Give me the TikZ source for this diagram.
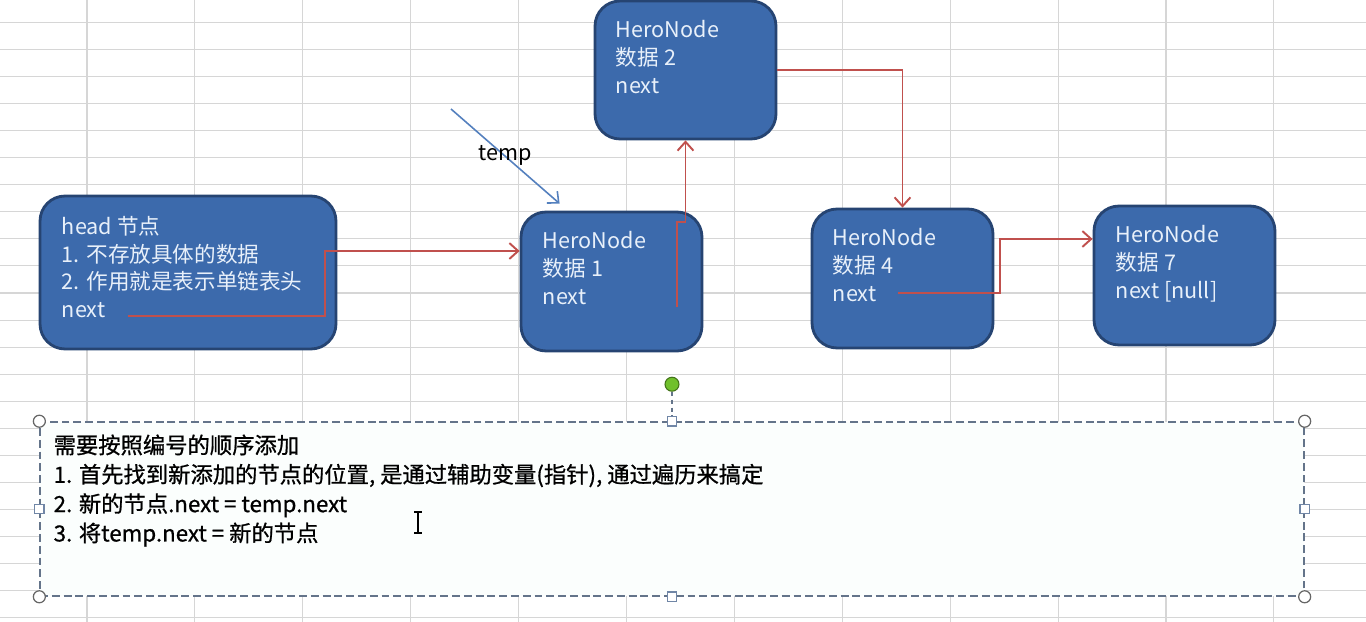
\documentclass[tikz,border=0pt]{standalone}
\usepackage{fontspec}
\setmainfont{Noto Sans CJK SC}
\newfontfamily\notefont{Noto Sans CJK SC}[FakeBold=0.8]
\usetikzlibrary{arrows.meta,positioning}
\definecolor{herofill}{RGB}{60,106,172}
\definecolor{heroline}{RGB}{38,68,114}
\definecolor{herotxt}{RGB}{232,240,250}
\definecolor{nextred}{RGB}{192,80,77}
\definecolor{tempblue}{RGB}{84,128,190}
\definecolor{gridgray}{RGB}{214,214,214}
\definecolor{framegray}{RGB}{100,116,138}
\definecolor{handleblue}{RGB}{112,134,166}
\definecolor{rotgreen}{RGB}{112,192,44}
\definecolor{notefill}{RGB}{251,254,253}
\begin{document}
\begin{tikzpicture}[x=0.02cm,y=-0.02cm,
  hero/.style={draw=heroline,line width=1.6pt,fill=herofill,rounded corners=0.5cm,
    minimum width=3.62cm,minimum height=2.78cm,inner sep=0pt},
  herotext/.style={anchor=north west,inner sep=0pt,align=left,text=herotxt,
    font=\fontsize{12.3}{15.9}\selectfont},
  nextarrow/.style={draw=nextred,line width=1.1pt,-{Straight Barb[length=5pt,width=9pt]}},
  handle/.style={circle,draw=gray!80!black,fill=white,line width=0.7pt,minimum size=0.24cm,inner sep=0pt},
  sizer/.style={rectangle,draw=handleblue,fill=white,line width=0.7pt,minimum size=0.19cm,inner sep=0pt}]
\useasboundingbox (0,0) rectangle (1366,622);
\fill[white] (0,0) rectangle (1366,622);
% sheet grid
\foreach \i in {0,...,11}
  \draw[gridgray,line width=0.6pt] (87+107.9*\i,0) -- (87+107.9*\i,622);
\foreach \j in {0,...,22}
  \draw[gridgray,line width=0.6pt] (0,22.5+27.05*\j) -- (1366,22.5+27.05*\j);

\node [hero,minimum width=5.92cm,minimum height=3.06cm] (head) at (188,272.5) {};
\node [hero] (n1) at (611.5,281.5) {};
\node [hero,minimum height=2.76cm] (n2) at (685.5,70) {};
\node [hero] (n4) at (902.5,278.5) {};
\node [hero] (n7) at (1184.5,275.5) {};

\node [herotext] (headtxt) at ([shift={(23,21)}]head.north west) {head 节点\\1. 不存放具体的数据\\2. 作用就是表示单链表头\\next};
\node [herotext] (n1txt) at ([shift={(23,20)}]n1.north west) {HeroNode\\数据 1\\next};
\node [herotext] (n2txt) at ([shift={(22,20)}]n2.north west) {HeroNode\\数据 2\\next};
\node [herotext] (n4txt) at ([shift={(22,20)}]n4.north west) {HeroNode\\数据 4\\next};
\node [herotext] (n7txt) at ([shift={(23,20)}]n7.north west) {HeroNode\\数据 7\\next [null]};

\coordinate (headnext) at (128,316);
\coordinate (n1next) at (677,307);
\coordinate (n4next) at (898,293);
\draw [nextarrow] (headnext) -- (325,316) |- ([shift={(0,-30.5)}]n1.west);
\draw [nextarrow] (n1next) -- (677,222) -| (n2.south);
\draw [nextarrow] (n2.east) -| (n4.north);
\draw [nextarrow] (n4next) -- (1000,293) |- ([shift={(0,-36.5)}]n7.west);
% \draw [nextarrow] (n1.east) -- (n4.west);

\coordinate (tempstart) at (451,109);
\draw [tempblue,line width=0.9pt,-{Straight Barb[length=5pt,width=9pt]}] (tempstart) -- ([shift={(40,-7)}]n1.north west);
\node [font=\fontsize{12.3}{15}\selectfont,inner sep=0pt] (templabel) at (505,155) {temp};

\node [draw=framegray,line width=0.9pt,dash pattern=on 4.5pt off 2.2pt,fill=notefill,
  minimum width=25.28cm,minimum height=3.48cm,inner sep=0pt] (note) at (672,509) {};
\node [anchor=north west,inner sep=0pt,align=left,font=\notefont\fontsize{12.7}{16.7}\selectfont] (notetxt)
  at ([shift={(14,13)}]note.north west) {需要按照编号的顺序添加\\1. 首先找到新添加的节点的位置, 是通过辅助变量(指针), 通过遍历来搞定\\2. 新的节点.next = temp.next\\3. 将temp.next = 新的节点};
\node [circle,draw=rotgreen!60!black,fill=rotgreen,line width=0.6pt,minimum size=0.28cm,inner sep=0pt] (rot) at ([shift={(0,-37)}]note.north) {};
\draw [framegray,line width=0.8pt,dash pattern=on 2.5pt off 2pt] (rot) -- (note.north);
\foreach \a in {north west,north east,south west,south east}
  \node [handle] at (note.\a) {};
\foreach \a in {north,south,west,east}
  \node [sizer] at (note.\a) {};
% text cursor
\draw [line width=0.8pt] (414,512) -- (422,512) (418,512) -- (418,533) (414,533) -- (422,533);
\end{tikzpicture}
\end{document}
